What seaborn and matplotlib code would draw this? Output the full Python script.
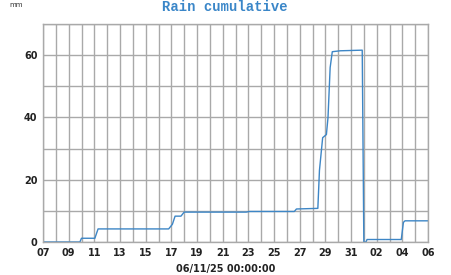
import matplotlib
matplotlib.use("Agg")
import matplotlib.pyplot as plt
import matplotlib.dates as mdates
from matplotlib.ticker import MultipleLocator
import pandas as pd
import seaborn as sns

times = [
    "2025-10-07 00:00", "2025-10-09 21:00", "2025-10-10 00:00", "2025-10-11 01:00",
    "2025-10-11 07:00", "2025-10-16 19:00", "2025-10-17 02:00", "2025-10-17 07:00",
    "2025-10-17 18:00", "2025-10-18 00:00", "2025-10-22 20:00", "2025-10-23 02:00",
    "2025-10-26 14:00", "2025-10-26 18:00", "2025-10-28 10:00", "2025-10-28 13:00",
    "2025-10-28 19:00", "2025-10-29 02:00", "2025-10-29 05:00", "2025-10-29 09:00",
    "2025-10-29 13:00", "2025-10-30 04:00", "2025-10-31 21:00", "2025-11-01 00:00",
    "2025-11-01 04:00", "2025-11-01 06:00", "2025-11-03 22:00", "2025-11-04 02:00",
    "2025-11-04 05:00", "2025-11-06 00:00",
]
rain_mm = [
    0.0, 0.0, 1.2, 1.2,
    4.2, 4.2, 5.7, 8.3,
    8.3, 9.6, 9.6, 9.8,
    9.8, 10.6, 10.8, 23.0,
    33.5, 34.5, 40.0, 56.0,
    61.1, 61.4, 61.6, 0.0,
    0.0, 0.8, 0.8, 6.3,
    6.8, 6.8,
]
title = "Rain cumulative"
unit = "mm"
x_label = "06/11/25 00:00:00"
y_ticks = [0, 20, 40, 60]

df = pd.DataFrame({"time": pd.to_datetime(times), "rain": rain_mm})

sns.set_style("white")
fig = plt.figure(figsize=(4.51, 2.75), dpi=100)
ax = fig.add_axes([43/451, 1-242/275, 385/451, 218/275])

sns.lineplot(data=df, x="time", y="rain", ax=ax, color="#3d86c6", linewidth=1.0)

start = pd.Timestamp("2025-10-07")
end = pd.Timestamp("2025-11-06")
ax.set_xlim(start, end)
ax.set_ylim(0, 70)

major = pd.date_range(start, end, freq="2D")
minor = pd.date_range(start, end, freq="1D")
ax.set_xticks(major)
ax.set_xticks(minor, minor=True)
ax.xaxis.set_major_formatter(mdates.DateFormatter("%d"))
ax.set_yticks(y_ticks)
ax.yaxis.set_minor_locator(MultipleLocator(10))

gc = "#a9a9a9"
ax.grid(True, which="both", color=gc, linewidth=1.0)
ax.set_axisbelow(True)
for s in ax.spines.values():
    s.set_color(gc)
    s.set_linewidth(1.0)
ax.tick_params(which="both", length=3, color=gc, width=1.0, pad=1)
for lab in ax.get_xticklabels() + ax.get_yticklabels():
    lab.set_fontweight("bold")
    lab.set_fontsize(7)
    lab.set_color("#222222")
ax.set_xlabel("")
ax.set_ylabel("")

fig.text(225/451, 1-7/275, title, ha="center", va="center",
         family="Liberation Mono", fontweight="bold", fontsize=10, color="#3a86c8")
fig.text(16/451, 1-5/275, unit, ha="center", va="center", fontsize=5, color="#333333")
fig.text(226/451, 1-269/275, x_label, ha="center", va="center",
         fontweight="bold", fontsize=7, color="#222222")

fig.savefig("out.png", dpi=100)
